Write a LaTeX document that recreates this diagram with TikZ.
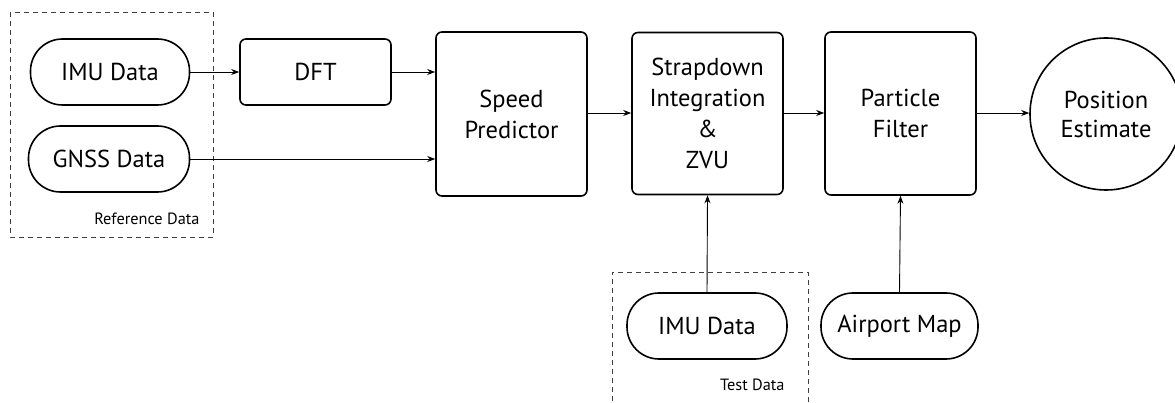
\documentclass[tikz,border=0pt]{standalone}
\usepackage{fontspec}
\setmainfont{PT Sans}
\usetikzlibrary{arrows.meta}
\begin{document}
\begin{tikzpicture}[x=1pt,y=-1pt,
  box/.style={draw,line width=1.6pt,rounded corners=6pt,align=center,font=\fontsize{24.5}{31}\selectfont,inner sep=0pt},
  pill/.style={draw,line width=1.6pt,rounded corners=32pt,align=center,font=\fontsize{24.5}{31}\selectfont,inner sep=0pt,minimum height=66pt},
  circ/.style={draw,line width=1.6pt,circle,align=center,font=\fontsize{24.5}{29}\selectfont,inner sep=0pt,minimum size=152pt},
  arr/.style={-{Stealth[length=8pt,width=6pt]},line width=0.9pt},
  grp/.style={draw=black!75,line width=0.9pt,dash pattern=on 5pt off 4pt},
  lbl/.style={font=\fontsize{16.3}{18}\selectfont}]
\useasboundingbox (0,0) rectangle (1175,403);
% groups
\draw[grp] (10,12) rectangle (213,237);
\node[lbl,anchor=base east] (reflbl) at (203,225) {Reference Data};
\draw[grp] (612,410) -- (612,272) -- (808,272) -- (808,410);
\node[lbl,anchor=base east] (testlbl) at (788,390) {Test Data};
% nodes
\node[pill,minimum width=159pt] (imu1) at (110,72) {IMU Data};
\node[pill,minimum width=161pt] (gnss) at (109,159) {GNSS Data};
\node[box,minimum width=151pt,minimum height=66pt] (dft) at (315.5,72) {DFT};
\node[box,minimum width=151pt,minimum height=164pt] (speed) at (511.5,114) {Speed\\Predictor};
\node[box,minimum width=151pt,minimum height=162pt] (strap) at (707.5,113.5) {Strapdown\\Integration\\\&\\ZVU};
\node[box,minimum width=151pt,minimum height=163pt] (pf) at (900.5,113.5) {Particle\\Filter};
\node[circ] (pos) at (1106,114) {Position\\Estimate};
\node[pill,minimum width=160pt] (imu2) at (707,326) {IMU Data};
\node[pill,minimum width=157pt] (map) at (899.5,326) {Airport Map};
% connectors
\draw[arr] (imu1.east) -- (dft.west);
\draw[arr] (dft.east) -- (dft.east -| speed.west);
\draw[arr] (gnss.east) -- (gnss.east -| speed.west);
\draw[arr] (speed.east |- 0,113) -- (strap.west |- 0,113);
\draw[arr] (strap.east |- 0,113) -- (pf.west |- 0,113);
\draw[arr] (pf.east |- 0,113) -- (pos.west |- 0,113);
\draw[arr] (imu2.north) -- (strap.south);
\draw[arr] (map.north) -- (pf.south);
\end{tikzpicture}
\end{document}
